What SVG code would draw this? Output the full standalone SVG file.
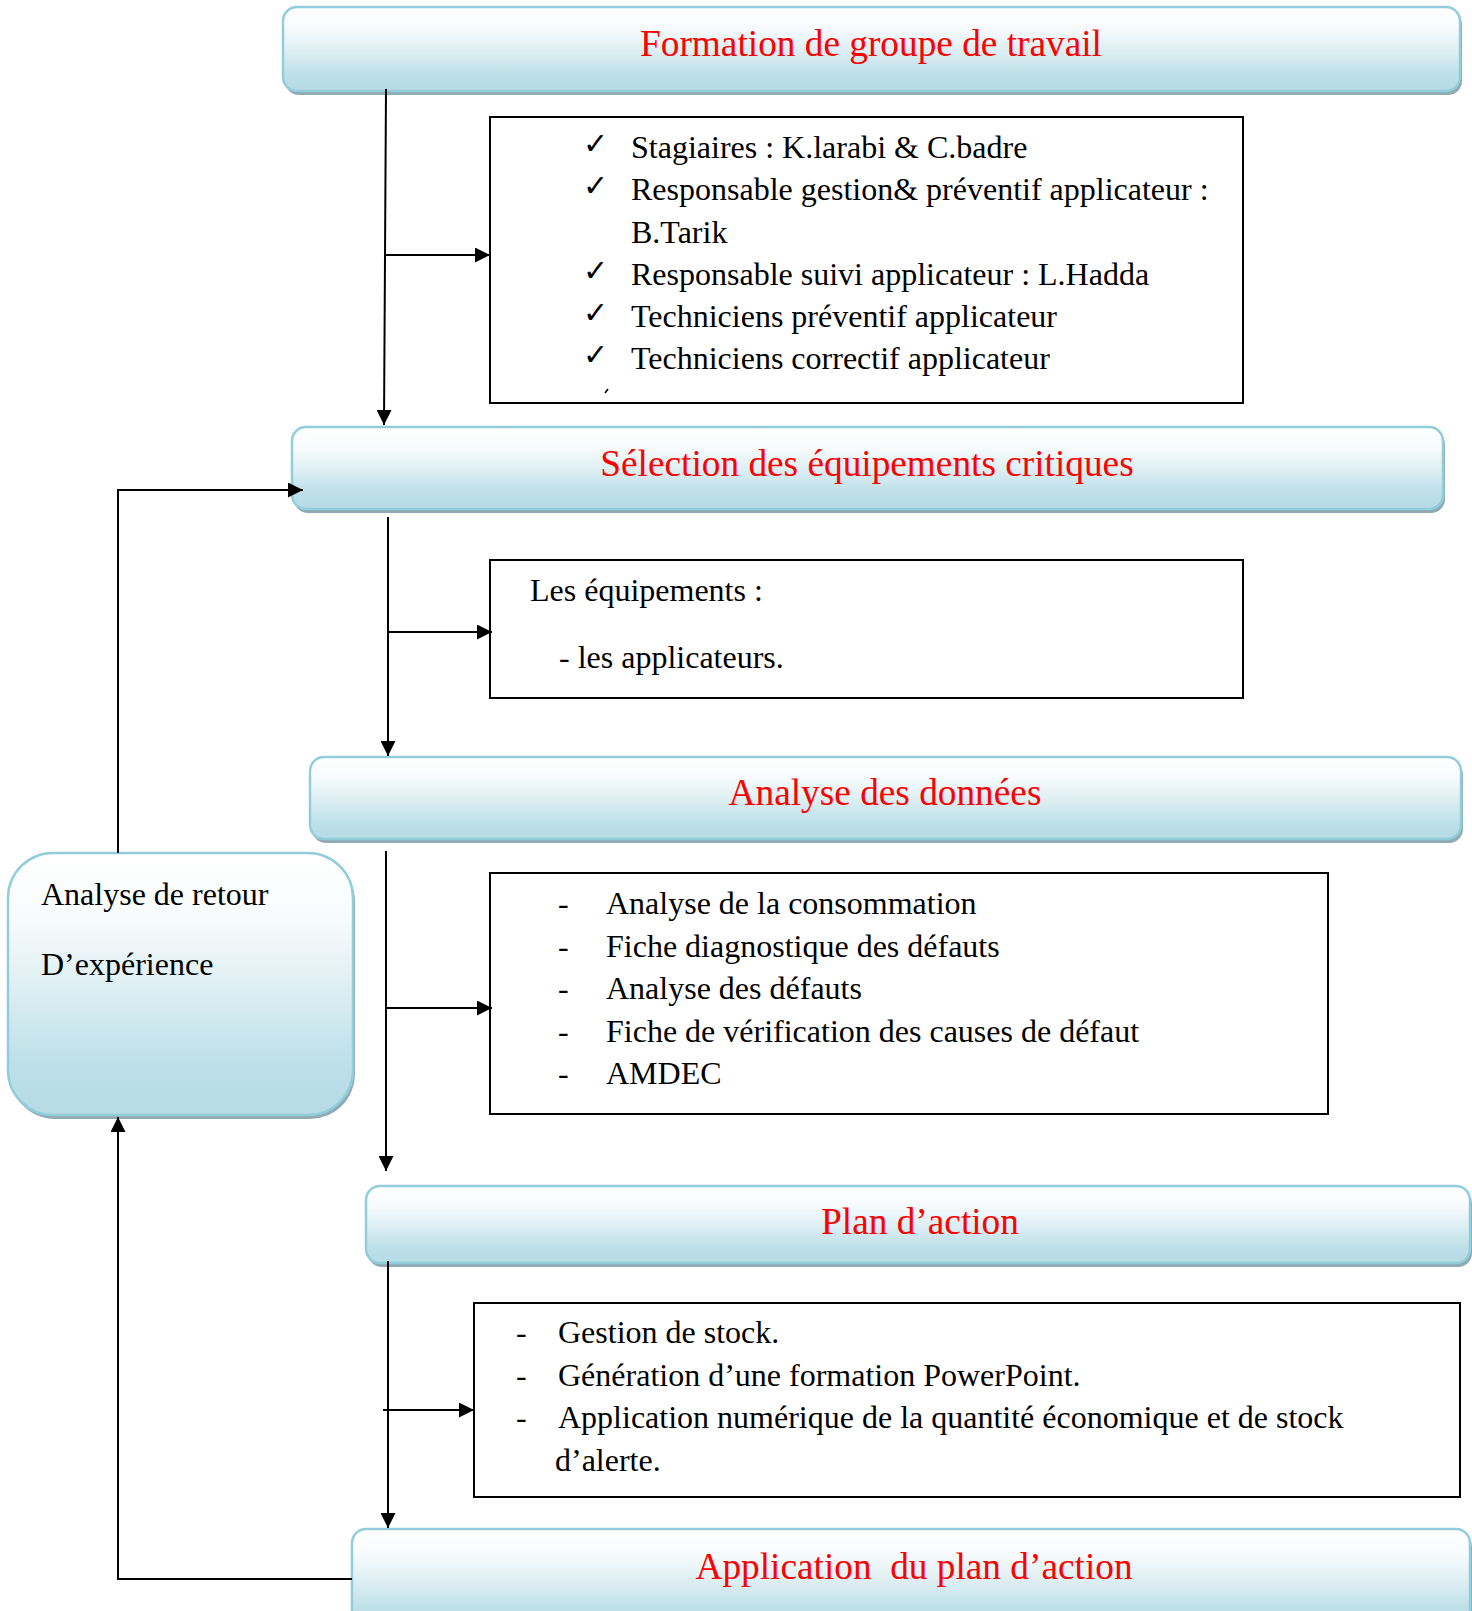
<svg xmlns="http://www.w3.org/2000/svg" width="1472" height="1611" viewBox="0 0 1472 1611">
  <defs>
    <linearGradient id="aqua" x1="0" y1="0" x2="0" y2="1">
      <stop offset="0" stop-color="#ffffff"/>
      <stop offset="0.25" stop-color="#f8fbfc"/>
      <stop offset="0.55" stop-color="#daedf2"/>
      <stop offset="0.8" stop-color="#bde0e9"/>
      <stop offset="1" stop-color="#b6dbe5"/>
    </linearGradient>
    <marker id="arrow" viewBox="0 0 10 10" refX="10" refY="5" markerWidth="15" markerHeight="15" markerUnits="userSpaceOnUse" orient="auto">
      <path d="M0,0 L10,5 L0,10 z" fill="#000"/>
    </marker>
  </defs>
  <style>
    .bar { fill: url(#aqua); stroke: #92cddc; stroke-width: 2.5; }
    .shadow { fill: #8faab3; }
    .list { fill: #ffffff; stroke: #000; stroke-width: 2; }
    .title { font-family: "Liberation Serif", "Times New Roman", serif; font-size: 37.3px; fill: #ff0000; text-anchor: middle; white-space: pre; }
    .body { font-family: "Liberation Serif", "Times New Roman", serif; font-size: 32px; fill: #000; }
    .check { font-family: "DejaVu Sans", sans-serif; font-size: 30px; fill: #000; }
    .conn { fill: none; stroke: #000; stroke-width: 2; }
  </style>

  <!-- step 1 -->
  <g id="formation">
    <rect class="shadow" x="285" y="11" width="1177" height="84" rx="14"/>
    <rect class="bar" x="283" y="7" width="1177" height="84" rx="14"/>
    <text class="title" x="871" y="56">Formation de groupe de travail</text>
  </g>

  <g id="equipe">
    <rect class="list" x="490" y="117" width="753" height="286"/>
    <text class="check" x="583" y="154">✓</text>
    <text class="check" x="583" y="196">✓</text>
    <text class="check" x="583" y="281">✓</text>
    <text class="check" x="583" y="323">✓</text>
    <text class="check" x="583" y="365">✓</text>
    <path d="M605,393 L608,389" stroke="#000" stroke-width="1.5" fill="none"/>
    <text class="body" x="631" y="158">Stagiaires : K.larabi &amp; C.badre</text>
    <text class="body" x="631" y="200">Responsable gestion&amp; préventif applicateur :</text>
    <text class="body" x="631" y="243">B.Tarik</text>
    <text class="body" x="631" y="285">Responsable suivi applicateur : L.Hadda</text>
    <text class="body" x="631" y="327">Techniciens préventif applicateur</text>
    <text class="body" x="631" y="369">Techniciens correctif applicateur</text>
  </g>

  <!-- step 2 -->
  <g id="selection">
    <rect class="shadow" x="294" y="431" width="1151" height="82" rx="14"/>
    <rect class="bar" x="292" y="427" width="1151" height="82" rx="14"/>
    <text class="title" x="867" y="476">Sélection des équipements critiques</text>
  </g>

  <g id="equipements">
    <rect class="list" x="490" y="560" width="753" height="138"/>
    <text class="body" x="530" y="601">Les équipements :</text>
    <text class="body" x="559" y="668">- les applicateurs.</text>
  </g>

  <!-- step 3 -->
  <g id="analyse">
    <rect class="shadow" x="312" y="761" width="1151" height="82" rx="14"/>
    <rect class="bar" x="310" y="757" width="1151" height="82" rx="14"/>
    <text class="title" x="885" y="805">Analyse des données</text>
  </g>

  <g id="analyses-liste">
    <rect class="list" x="490" y="873" width="838" height="241"/>
    <text class="body" x="558" y="914">-</text>
    <text class="body" x="606" y="914">Analyse de la consommation</text>
    <text class="body" x="558" y="957">-</text>
    <text class="body" x="606" y="957">Fiche diagnostique des défauts</text>
    <text class="body" x="558" y="999">-</text>
    <text class="body" x="606" y="999">Analyse des défauts</text>
    <text class="body" x="558" y="1042">-</text>
    <text class="body" x="606" y="1042">Fiche de vérification des causes de défaut</text>
    <text class="body" x="558" y="1084">-</text>
    <text class="body" x="606" y="1084">AMDEC</text>
  </g>

  <!-- step 4 -->
  <g id="plan">
    <rect class="shadow" x="368" y="1190" width="1104" height="77" rx="14"/>
    <rect class="bar" x="366" y="1186" width="1104" height="77" rx="14"/>
    <text class="title" x="920" y="1234">Plan d’action</text>
  </g>

  <g id="actions">
    <rect class="list" x="474" y="1303" width="986" height="194"/>
    <text class="body" x="516" y="1343">-</text>
    <text class="body" x="558" y="1343">Gestion de stock.</text>
    <text class="body" x="516" y="1386">-</text>
    <text class="body" x="558" y="1386">Génération d’une formation PowerPoint.</text>
    <text class="body" x="516" y="1428">-</text>
    <text class="body" x="558" y="1428">Application numérique de la quantité économique et de stock</text>
    <text class="body" x="555" y="1471">d’alerte.</text>
  </g>

  <!-- step 5 -->
  <g id="application">
    <rect class="shadow" x="354" y="1533" width="1118" height="100" rx="14"/>
    <rect class="bar" x="352" y="1529" width="1118" height="100" rx="14"/>
    <text class="title" x="914" y="1579">Application  du plan d’action</text>
  </g>

  <!-- feedback -->
  <g id="retour">
    <rect class="shadow" x="10" y="857" width="345" height="262" rx="45"/>
    <rect class="bar" x="8" y="853" width="345" height="262" rx="45"/>
    <text class="body" x="41" y="905">Analyse de retour</text>
    <text class="body" x="41" y="975">D’expérience</text>
  </g>

  <g id="connectors">
    <path class="conn" d="M386,89 L384,425" marker-end="url(#arrow)"/>
    <path class="conn" d="M384,255 L490,255" marker-end="url(#arrow)"/>
    <path class="conn" d="M388,517 L388,756" marker-end="url(#arrow)"/>
    <path class="conn" d="M388,632 L492,632" marker-end="url(#arrow)"/>
    <path class="conn" d="M386,851 L386,1171" marker-end="url(#arrow)"/>
    <path class="conn" d="M386,1008 L492,1008" marker-end="url(#arrow)"/>
    <path class="conn" d="M388,1261 L388,1528" marker-end="url(#arrow)"/>
    <path class="conn" d="M383,1410 L474,1410" marker-end="url(#arrow)"/>
    <path class="conn" d="M352,1579 L118,1579 L118,1117" marker-end="url(#arrow)"/>
    <path class="conn" d="M118,853 L118,490 L303,490" marker-end="url(#arrow)"/>
  </g>
</svg>
